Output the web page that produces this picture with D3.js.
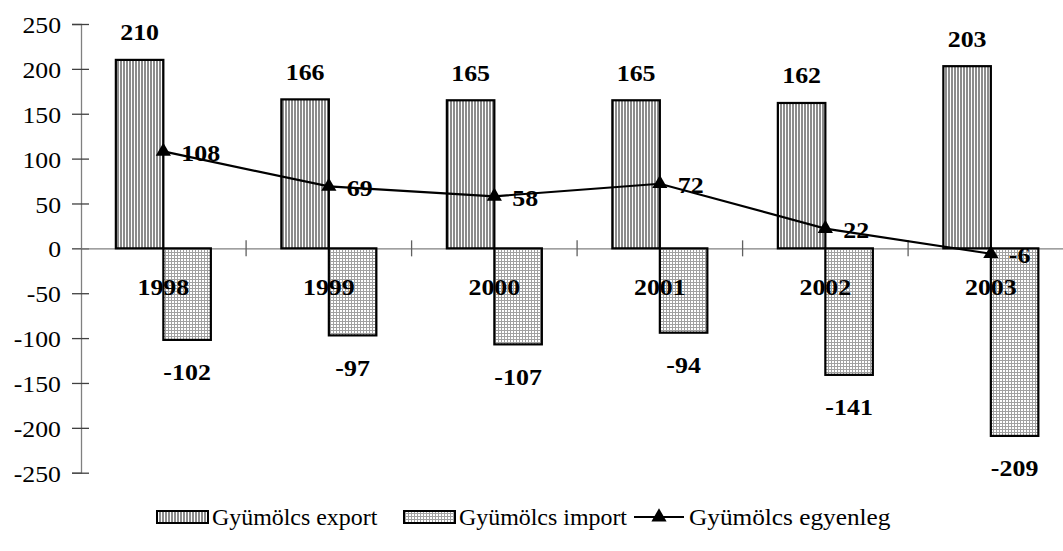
<!DOCTYPE html>
<html><head><meta charset="utf-8">
<script src="https://cdnjs.cloudflare.com/ajax/libs/d3/7.8.5/d3.min.js"></script>
<style>body{margin:0;background:#fff}svg{display:block}</style>
</head><body>
<script>
const categories = ["1998","1999","2000","2001","2002","2003"];
const exportValues = [210,166,165,165,162,203];
const importValues = [-102,-97,-107,-94,-141,-209];
const balanceValues = [108,69,58,72,22,-6];
const yTicks = [250,200,150,100,50,0,-50,-100,-150,-200,-250];
const seriesNames = ["Gyümölcs export","Gyümölcs import","Gyümölcs egyenleg"];

const W=1063,H=551;
const svg=d3.select("body").append("svg").attr("width",W).attr("height",H);
const defs=svg.append("defs");
const p1=defs.append("pattern").attr("id","vstripe").attr("patternUnits","userSpaceOnUse").attr("width",3).attr("height",3);
p1.append("rect").attr("width",3).attr("height",3).attr("fill","#fff");
p1.append("rect").attr("width",2).attr("height",3).attr("fill","#8c8c8c");
const p2=defs.append("pattern").attr("id","grid").attr("patternUnits","userSpaceOnUse").attr("width",3).attr("height",3);
p2.append("rect").attr("width",3).attr("height",3).attr("fill","#fff");
p2.append("rect").attr("width",1).attr("height",3).attr("fill","#a0a0a0");
p2.append("rect").attr("width",3).attr("height",1).attr("fill","#a0a0a0");

const x0=80.6, step=165.5;
const x=d3.scaleBand().domain(categories).range([x0,x0+step*categories.length]).padding(0);
const y=d3.scaleLinear().domain([-250,250]).range([472.7,24]);
const bw=47.5;
const serif="Liberation Serif";

function txt(g,str,cx,cy,anchor,size,weight,sx){
  return g.append("text").attr("transform",`translate(${cx},${cy}) scale(${sx||1.1},1)`)
    .attr("text-anchor",anchor).attr("dy","0.35em")
    .attr("font-family",serif).attr("font-size",size).attr("font-weight",weight||"normal")
    .attr("fill","#000").text(str);
}

const yAxis=svg.append("g").attr("transform","translate(81,0)")
  .call(d3.axisLeft(y).tickValues(yTicks).tickSize(9).tickFormat(""));
yAxis.select(".domain").attr("stroke","#808080").attr("stroke-width",1.3);
yAxis.selectAll(".tick line").attr("x1",8).attr("stroke","#404040").attr("stroke-width",1.3);
yTicks.forEach(v=>txt(svg,String(v),61,y(v)+1,"end",23,"normal",1.12));

const xAxis=svg.append("g").attr("transform",`translate(0,${y(0)})`)
  .call(d3.axisBottom(x).tickSize(0).tickFormat(""));
xAxis.select(".domain").attr("stroke","#808080").attr("stroke-width",1.3);
xAxis.selectAll(".tick").remove();
categories.slice(1).forEach(c=>{
  xAxis.append("line").attr("x1",x(c)).attr("x2",x(c)).attr("y1",-8).attr("y2",8)
    .attr("stroke","#606060").attr("stroke-width",1.3);
});

const g=svg.append("g");
g.selectAll(".ex").data(categories).join("rect")
  .attr("x",d=>x(d)+x.bandwidth()/2-bw).attr("width",bw)
  .attr("y",(d,i)=>y(exportValues[i])).attr("height",(d,i)=>y(0)-y(exportValues[i]))
  .attr("fill","url(#vstripe)").attr("stroke","#000").attr("stroke-width",2.2);
g.selectAll(".im").data(categories).join("rect")
  .attr("x",d=>x(d)+x.bandwidth()/2).attr("width",bw)
  .attr("y",y(0)).attr("height",(d,i)=>y(importValues[i])-y(0))
  .attr("fill","url(#grid)").attr("stroke","#000").attr("stroke-width",2.2);

categories.forEach(c=>txt(svg,c,x(c)+x.bandwidth()/2,287,"middle",24,"bold",1.08));

const cx=d=>x(d)+x.bandwidth()/2;
const line=d3.line().x((d,i)=>cx(categories[i])).y(d=>y(d));
svg.append("path").datum(balanceValues).attr("d",line).attr("fill","none")
  .attr("stroke","#000").attr("stroke-width",2.2);
const tri=d3.symbol().type(d3.symbolTriangle).size(100);
svg.selectAll(".mk").data(balanceValues).join("path")
  .attr("transform",(d,i)=>`translate(${cx(categories[i])},${y(d)})`).attr("d",tri).attr("fill","#000");

exportValues.forEach((v,i)=>txt(svg,String(v),cx(categories[i])-bw/2,y(v)-28,"middle",24,"bold",1.08));
importValues.forEach((v,i)=>txt(svg,String(v),cx(categories[i])+bw/2,y(v)+32,"middle",24,"bold",1.08));
balanceValues.forEach((v,i)=>txt(svg,String(v),cx(categories[i])+18,y(v)+1,"start",24,"bold",1.08));

const ly=517;
const leg=svg.append("g");
const items=[{x:157,type:"vstripe"},{x:404,type:"grid"},{x:634,type:"line"}];
items.forEach((it,i)=>{
  if(it.type==="line"){
    leg.append("line").attr("x1",it.x).attr("x2",it.x+50).attr("y1",ly).attr("y2",ly).attr("stroke","#000").attr("stroke-width",2.2);
    leg.append("path").attr("transform",`translate(${it.x+25},${ly})`).attr("d",tri).attr("fill","#000");
    txt(leg,seriesNames[i],it.x+55,ly,"start",23,"normal",1.1);
  } else {
    leg.append("rect").attr("x",it.x).attr("y",ly-6).attr("width",51).attr("height",12)
      .attr("fill",`url(#${it.type})`).attr("stroke","#000").attr("stroke-width",2);
    txt(leg,seriesNames[i],it.x+55,ly,"start",23,"normal",1.04);
  }
});
</script>
</body></html>
